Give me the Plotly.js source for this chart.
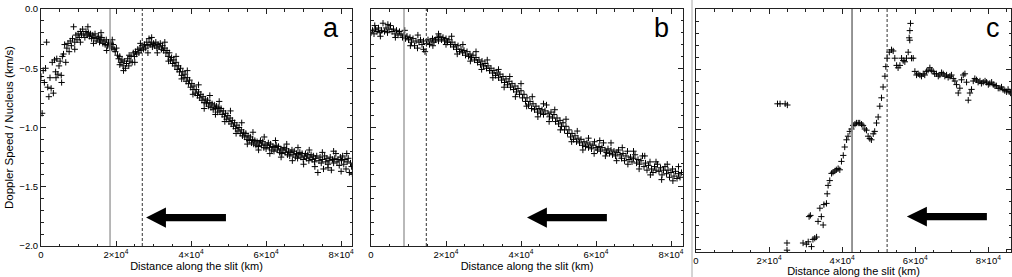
<!DOCTYPE html>
<html>
<head>
<meta charset="utf-8">
<script src="https://cdn.plot.ly/plotly-3.0.1.min.js"></script>
<style>html,body{margin:0;padding:0;background:#fff;}#chart{width:1012px;height:277px;}</style>
</head>
<body>
<div id="chart"></div>
<script>
// ---- data ----
const aDist = [0,300,600,900,1200,1500,1800,2100,2400,2700,3000,3300,3600,3900,4200,4500,4800,5100,5400,5700,6000,6300,6600,6900,7200,7500,7800,8100,8400,8700,9000,9300,9600,9900,10200,10500,10800,11100,11400,11700,12000,12300,12600,12900,13200,13500,13800,14100,14400,14700,15000,15300,15600,15900,16200,16500,16800,17100,17400,17700,18000,18300,18600,18900,19200,19500,19800,20100,20400,20700,21000,21300,21600,21900,22200,22500,22800,23100,23400,23700,24000,24300,24600,24900,25200,25500,25800,26100,26400,26700,27000,27300,27600,27900,28200,28500,28800,29100,29400,29700,30000,30300,30600,30900,31200,31500,31800,32100,32400,32700,33000,33300,33600,33900,34200,34500,34800,35100,35400,35700,36000,36300,36600,36900,37200,37500,37800,38100,38400,38700,39000,39300,39600,39900,40200,40500,40800,41100,41400,41700,42000,42300,42600,42900,43200,43500,43800,44100,44400,44700,45000,45300,45600,45900,46200,46500,46800,47100,47400,47700,48000,48300,48600,48900,49200,49500,49800,50100,50400,50700,51000,51300,51600,51900,52200,52500,52800,53100,53400,53700,54000,54300,54600,54900,55200,55500,55800,56100,56400,56700,57000,57300,57600,57900,58200,58500,58800,59100,59400,59700,60000,60300,60600,60900,61200,61500,61800,62100,62400,62700,63000,63300,63600,63900,64200,64500,64800,65100,65400,65700,66000,66300,66600,66900,67200,67500,67800,68100,68400,68700,69000,69300,69600,69900,70200,70500,70800,71100,71400,71700,72000,72300,72600,72900,73200,73500,73800,74100,74400,74700,75000,75300,75600,75900,76200,76500,76800,77100,77400,77700,78000,78300,78600,78900,79200,79500,79800,80100,80400,80700,81000,81300,81600,81900,82200,82500,82800];
const aSpeed = [-0.57,-0.88,-0.52,-0.62,-0.50,-0.28,-0.66,-0.74,-0.58,-0.67,-0.45,-0.71,-0.43,-0.53,-0.42,-0.55,-0.48,-0.44,-0.56,-0.40,-0.38,-0.30,-0.45,-0.33,-0.29,-0.36,-0.27,-0.31,-0.25,-0.15,-0.28,-0.22,-0.26,-0.21,-0.24,-0.19,-0.22,-0.17,-0.21,-0.24,-0.19,-0.22,-0.20,-0.23,-0.21,-0.25,-0.22,-0.24,-0.21,-0.27,-0.25,-0.23,-0.28,-0.26,-0.24,-0.29,-0.27,-0.30,-0.26,-0.31,-0.28,-0.32,-0.29,-0.33,-0.30,-0.34,-0.36,-0.33,-0.39,-0.42,-0.40,-0.45,-0.43,-0.48,-0.44,-0.50,-0.46,-0.42,-0.48,-0.44,-0.40,-0.45,-0.37,-0.40,-0.36,-0.38,-0.34,-0.37,-0.33,-0.35,-0.31,-0.34,-0.30,-0.33,-0.28,-0.31,-0.25,-0.30,-0.28,-0.32,-0.29,-0.31,-0.28,-0.33,-0.30,-0.32,-0.29,-0.34,-0.31,-0.35,-0.33,-0.37,-0.35,-0.40,-0.37,-0.43,-0.41,-0.46,-0.43,-0.48,-0.45,-0.51,-0.48,-0.53,-0.50,-0.56,-0.53,-0.58,-0.55,-0.61,-0.58,-0.63,-0.60,-0.66,-0.63,-0.68,-0.65,-0.71,-0.68,-0.73,-0.70,-0.75,-0.72,-0.77,-0.74,-0.79,-0.76,-0.80,-0.77,-0.82,-0.79,-0.83,-0.80,-0.85,-0.81,-0.84,-0.82,-0.87,-0.83,-0.86,-0.84,-0.89,-0.86,-0.91,-0.88,-0.93,-0.90,-0.95,-0.92,-0.97,-0.94,-0.99,-0.96,-1.01,-0.98,-1.03,-1.00,-1.05,-1.02,-1.07,-1.04,-1.08,-1.05,-1.10,-1.07,-1.11,-1.08,-1.13,-1.10,-1.14,-1.11,-1.15,-1.12,-1.16,-1.13,-1.11,-1.15,-1.12,-1.17,-1.14,-1.18,-1.15,-1.13,-1.17,-1.14,-1.19,-1.16,-1.20,-1.17,-1.15,-1.19,-1.16,-1.21,-1.18,-1.22,-1.19,-1.17,-1.21,-1.18,-1.23,-1.20,-1.24,-1.21,-1.19,-1.23,-1.20,-1.25,-1.22,-1.26,-1.23,-1.21,-1.25,-1.22,-1.27,-1.24,-1.22,-1.26,-1.23,-1.28,-1.25,-1.23,-1.27,-1.24,-1.29,-1.26,-1.24,-1.38,-1.28,-1.25,-1.30,-1.27,-1.35,-1.24,-1.29,-1.26,-1.31,-1.28,-1.25,-1.36,-1.27,-1.30,-1.26,-1.22,-1.29,-1.27,-1.32,-1.25,-1.28,-1.24,-1.31,-1.27,-1.35,-1.29,-1.26,-1.38,-1.30,-1.33];
const aScatterDist = [4000,5500,9000,10500,12500,14000,16000,17500,19000,21000,22000,23500,25000,26500,28500,29500,31000,33000,34000,36000,37500,39000,40500,42000,43500,45000,46500,47500,49000,50500,52000,53500,55000,56500,58000,59500,61000,62500,64000,65500,67000,68500,70000,71500,73000,75000,76500,78000,80000,81500,83000];
const aScatterSpeed = [-0.58,-0.62,-0.34,-0.28,-0.15,-0.29,-0.20,-0.35,-0.26,-0.47,-0.52,-0.39,-0.45,-0.29,-0.37,-0.24,-0.37,-0.28,-0.44,-0.40,-0.59,-0.52,-0.72,-0.64,-0.84,-0.73,-0.89,-0.78,-0.95,-0.86,-1.05,-0.96,-1.14,-1.04,-1.19,-1.08,-1.22,-1.11,-1.25,-1.14,-1.28,-1.17,-1.31,-1.19,-1.33,-1.21,-1.34,-1.20,-1.37,-1.22,-1.39];

const bDist = [0,400,800,1200,1600,2000,2400,2800,3200,3600,4000,4400,4800,5200,5600,6000,6400,6800,7200,7600,8000,8400,8800,9200,9600,10000,10400,10800,11200,11600,12000,12400,12800,13200,13600,14000,14400,14800,15200,15600,16000,16400,16800,17200,17600,18000,18400,18800,19200,19600,20000,20400,20800,21200,21600,22000,22400,22800,23200,23600,24000,24400,24800,25200,25600,26000,26400,26800,27200,27600,28000,28400,28800,29200,29600,30000,30400,30800,31200,31600,32000,32400,32800,33200,33600,34000,34400,34800,35200,35600,36000,36400,36800,37200,37600,38000,38400,38800,39200,39600,40000,40400,40800,41200,41600,42000,42400,42800,43200,43600,44000,44400,44800,45200,45600,46000,46400,46800,47200,47600,48000,48400,48800,49200,49600,50000,50400,50800,51200,51600,52000,52400,52800,53200,53600,54000,54400,54800,55200,55600,56000,56400,56800,57200,57600,58000,58400,58800,59200,59600,60000,60400,60800,61200,61600,62000,62400,62800,63200,63600,64000,64400,64800,65200,65600,66000,66400,66800,67200,67600,68000,68400,68800,69200,69600,70000,70400,70800,71200,71600,72000,72400,72800,73200,73600,74000,74400,74800,75200,75600,76000,76400,76800,77200,77600,78000,78400,78800,79200,79600,80000,80400,80800,81200,81600,82000,82400,82800];
const bSpeed = [-0.20,-0.18,-0.21,-0.17,-0.19,-0.16,-0.20,-0.18,-0.12,-0.19,-0.16,-0.20,-0.17,-0.14,-0.19,-0.17,-0.21,-0.18,-0.22,-0.19,-0.21,-0.24,-0.22,-0.25,-0.23,-0.26,-0.24,-0.28,-0.25,-0.31,-0.27,-0.33,-0.28,-0.26,-0.30,-0.27,-0.36,-0.29,-0.26,-0.30,-0.27,-0.25,-0.28,-0.26,-0.24,-0.27,-0.23,-0.26,-0.24,-0.27,-0.25,-0.28,-0.26,-0.30,-0.28,-0.32,-0.30,-0.34,-0.31,-0.36,-0.34,-0.37,-0.35,-0.39,-0.36,-0.40,-0.38,-0.41,-0.39,-0.43,-0.41,-0.45,-0.43,-0.47,-0.44,-0.48,-0.46,-0.50,-0.48,-0.52,-0.50,-0.54,-0.52,-0.56,-0.54,-0.58,-0.55,-0.60,-0.57,-0.62,-0.59,-0.64,-0.61,-0.66,-0.63,-0.68,-0.65,-0.70,-0.67,-0.72,-0.69,-0.75,-0.72,-0.78,-0.75,-0.81,-0.78,-0.84,-0.80,-0.85,-0.82,-0.87,-0.84,-0.88,-0.85,-0.89,-0.86,-0.81,-0.88,-0.91,-0.87,-0.92,-0.89,-0.95,-0.92,-0.97,-0.94,-0.99,-0.96,-1.02,-0.99,-1.05,-1.02,-1.08,-1.05,-1.10,-1.07,-1.12,-1.09,-1.13,-1.10,-1.15,-1.12,-1.16,-1.13,-1.17,-1.14,-1.18,-1.15,-1.12,-1.17,-1.19,-1.16,-1.20,-1.17,-1.13,-1.19,-1.21,-1.18,-1.22,-1.19,-1.23,-1.20,-1.24,-1.21,-1.19,-1.23,-1.26,-1.22,-1.28,-1.24,-1.20,-1.27,-1.25,-1.29,-1.26,-1.23,-1.30,-1.27,-1.31,-1.28,-1.24,-1.33,-1.30,-1.36,-1.32,-1.29,-1.35,-1.38,-1.33,-1.36,-1.31,-1.37,-1.34,-1.40,-1.36,-1.33,-1.39,-1.36,-1.42,-1.38,-1.35,-1.41,-1.37,-1.43,-1.39,-1.42,-1.38];
const bScatterDist = [1000,2500,4500,6500,9000,10500,12500,14000,16500,18000,20000,21500,23000,24500,26500,28000,29500,31000,32500,34000,35500,37000,38500,40000,41500,43000,44500,46000,47500,49000,50500,52000,53500,55000,56500,58000,59500,61000,62500,64000,65500,67000,68500,70000,71500,73000,74500,76000,77500,79000,80500,82000];
const bScatterSpeed = [-0.14,-0.23,-0.13,-0.24,-0.18,-0.31,-0.22,-0.34,-0.31,-0.21,-0.30,-0.23,-0.38,-0.30,-0.44,-0.36,-0.51,-0.43,-0.58,-0.51,-0.66,-0.57,-0.74,-0.63,-0.82,-0.74,-0.91,-0.80,-0.95,-0.85,-1.02,-0.93,-1.12,-1.03,-1.19,-1.09,-1.22,-1.11,-1.24,-1.13,-1.28,-1.17,-1.31,-1.20,-1.35,-1.24,-1.40,-1.29,-1.44,-1.31,-1.45,-1.33];

const cDist = [22300,23000,24400,25000,24900,24900,29300,30200,30700,31300,30950,31600,32000,32500,33000,33400,33900,34300,34800,35000,35700,35900,36150,36600,37100,37500,38000,38400,38900,39350,39800,40300,40700,41200,41600,42100,42550,43000,43500,43900,44400,44800,45300,45700,46200,46650,47100,47570,48000,48500,48900,49400,49850,50300,50760,51200,51700,51950,52300,52900,53500,53960,54400,54900,55300,55800,56250,56700,57150,57600,58070,58340,58520,58700,58500,58980,59440,59900,60350,60800,61260,61700,62180,62600,63090,63500,64000,64400,64900,65300,65800,66300,66740,67200,67650,68100,68570,69000,69480,69900,70400,70850,71300,71760,72200,72670,73130,73590,74040,74500,74960,75400,75870,76300,76780,77200,77700,78100,78600,79100,79520,80000,80400,80900,81350,81800,82200,82700,83170,83600,84000,84500,85000,85400,85700,86100];
const cSpeed = [-0.79,-0.79,-0.79,-0.80,-1.95,-2.01,-1.95,-1.96,-1.94,-1.72,-1.73,-1.98,-1.92,-1.91,-1.90,-1.77,-1.66,-1.73,-1.80,-1.63,-1.62,-1.54,-1.47,-1.43,-1.37,-1.36,-1.35,-1.34,-1.33,-1.34,-1.27,-1.22,-1.15,-1.09,-1.06,-1.02,-1.00,-0.97,-0.96,-0.95,-0.95,-0.95,-0.96,-0.97,-1.00,-1.01,-1.06,-1.08,-1.09,-1.04,-1.02,-0.95,-0.90,-0.81,-0.74,-0.65,-0.56,-0.48,-0.41,-0.36,-0.34,-0.35,-0.41,-0.47,-0.49,-0.47,-0.41,-0.43,-0.44,-0.41,-0.36,-0.24,-0.18,-0.12,-0.26,-0.41,-0.41,-0.52,-0.55,-0.54,-0.55,-0.56,-0.54,-0.55,-0.52,-0.51,-0.49,-0.51,-0.52,-0.54,-0.54,-0.56,-0.55,-0.53,-0.54,-0.56,-0.55,-0.57,-0.56,-0.55,-0.58,-0.60,-0.63,-0.70,-0.66,-0.59,-0.55,-0.54,-0.61,-0.76,-0.70,-0.67,-0.60,-0.58,-0.59,-0.61,-0.60,-0.62,-0.61,-0.60,-0.61,-0.63,-0.62,-0.61,-0.63,-0.64,-0.64,-0.66,-0.66,-0.65,-0.67,-0.68,-0.69,-0.67,-0.69,-0.70];

const xTickVals = [0, 20000, 40000, 60000, 80000];
const xTickText = ['0', '2×10<sup>4</sup>', '4×10<sup>4</sup>', '6×10<sup>4</sup>', '8×10<sup>4</sup>'];
const yTickVals = [0, -0.5, -1.0, -1.5, -2.0];
const yTickText = ['0.0', '−0.5', '−1.0', '−1.5', '−2.0'];
const panelLetters = ['a', 'b', 'c'];
const solidLines = [18400, 8800, 42700];
const dashedLines = [27000, 14750, 52300];

// ---- drawing ----
const W = 1012, H = 277;
const FONT = 'Liberation Sans, Arial, sans-serif';
const marker = {symbol: 'cross-thin', size: 4.5, line: {width: 1, color: '#000'}, color: '#000'};

const traces = [
  {x: aDist, y: aSpeed, xaxis: 'x', yaxis: 'y'},
  {x: aScatterDist, y: aScatterSpeed, xaxis: 'x', yaxis: 'y'},
  {x: bDist, y: bSpeed, xaxis: 'x2', yaxis: 'y2'},
  {x: bScatterDist, y: bScatterSpeed, xaxis: 'x2', yaxis: 'y2'},
  {x: cDist, y: cSpeed, xaxis: 'x3', yaxis: 'y3'}
].map(t => Object.assign(t, {type: 'scatter', mode: 'markers', marker: marker, showlegend: false, hoverinfo: 'skip', cliponaxis: true}));

function xAxis(domain, range, anchor) {
  return {
    domain: domain, range: range, anchor: anchor,
    tickmode: 'array', tickvals: xTickVals, ticktext: xTickText,
    ticks: 'inside', ticklen: 5, tickwidth: 1, tickcolor: '#222',
    minor: {dtick: 5000, tick0: 0, ticks: 'inside', ticklen: 2.5, tickwidth: 1, tickcolor: '#222'},
    showline: true, linecolor: '#222', linewidth: 1, mirror: 'allticks',
    showgrid: false, zeroline: false,
    tickfont: {family: FONT, size: 9.5, color: '#000'},
    title: {text: 'Distance along the slit (km)', font: {family: FONT, size: 11, color: '#000'}, standoff: 0}
  };
}
function yAxis(domain, range, anchor, labels) {
  const ax = {
    domain: domain, range: range, anchor: anchor,
    tickmode: 'array', tickvals: yTickVals, ticktext: yTickText,
    ticks: 'inside', ticklen: 5, tickwidth: 1, tickcolor: '#222',
    minor: {dtick: 0.1, tick0: 0, ticks: 'inside', ticklen: 2.5, tickwidth: 1, tickcolor: '#222'},
    showline: true, linecolor: '#222', linewidth: 1, mirror: 'allticks',
    showgrid: false, zeroline: false, showticklabels: !!labels,
    tickfont: {family: FONT, size: 9.5, color: '#000'}
  };
  if (labels) ax.title = {text: 'Doppler Speed / Nucleus (km/s)', font: {family: FONT, size: 11.5, color: '#000'}, standoff: 3};
  return ax;
}

const yTop = 1 - 9 / H;
const layout = {
  width: W, height: H,
  margin: {l: 0, r: 0, t: 0, b: 0},
  paper_bgcolor: '#fff', plot_bgcolor: '#fff',
  xaxis: xAxis([41 / W, 352 / W], [0, 82900], 'y'),
  xaxis2: xAxis([371 / W, 683 / W], [0, 83200], 'y2'),
  xaxis3: xAxis([696 / W, 1011 / W], [0, 86200], 'y3'),
  yaxis: yAxis([1 - 246 / H, yTop], [-2, 0], 'x', true),
  yaxis2: yAxis([1 - 246 / H, yTop], [-2, 0], 'x2', false),
  yaxis3: yAxis([1 - 252 / H, yTop], [-2.025, 0], 'x3', false),
  shapes: [],
  annotations: []
};

const axNames = ['', '2', '3'];
const arrows = [
  {tip: 28000, tail: 49300, y: -1.76, head: 5300, hh: 0.085, sh: 0.031},
  {tip: 41600, tail: 62900, y: -1.76, head: 5300, hh: 0.085, sh: 0.031},
  {tip: 57700, tail: 79600, y: -1.73, head: 5480, hh: 0.083, sh: 0.030}
];
const letterX = [331, 661.5, 993];

axNames.forEach((n, i) => {
  const xr = 'x' + n, yr = 'y' + n;
  layout.shapes.push({type: 'line', xref: xr, yref: yr + ' domain', x0: solidLines[i], x1: solidLines[i], y0: 0, y1: 1,
    line: {color: '#8a8a8a', width: i === 2 ? 1.8 : 1.2}});
  layout.shapes.push({type: 'line', xref: xr, yref: yr + ' domain', x0: dashedLines[i], x1: dashedLines[i], y0: 0, y1: 1,
    line: {color: '#333', width: 1, dash: '3px,2px'}});
  const a = arrows[i];
  const hx = a.tip + a.head;
  layout.shapes.push({type: 'path', xref: xr, yref: yr,
    path: `M${a.tip},${a.y} L${hx},${a.y + a.hh} L${hx},${a.y + a.sh} L${a.tail},${a.y + a.sh} L${a.tail},${a.y - a.sh} L${hx},${a.y - a.sh} L${hx},${a.y - a.hh} Z`,
    fillcolor: '#000', line: {width: 0}});
  layout.annotations.push({xref: 'paper', yref: 'paper', x: letterX[i] / W, y: 1 - 28 / H, text: panelLetters[i],
    showarrow: false, xanchor: 'center', yanchor: 'middle', font: {family: FONT, size: 27, color: '#000'}});
});
// separator between panels b and c
layout.shapes.push({type: 'line', xref: 'paper', yref: 'paper', x0: 692 / W, x1: 692 / W, y0: 0, y1: 1,
  line: {color: '#aaa', width: 1}});

Plotly.newPlot('chart', traces, layout, {staticPlot: true, displayModeBar: false});
</script>
</body>
</html>
